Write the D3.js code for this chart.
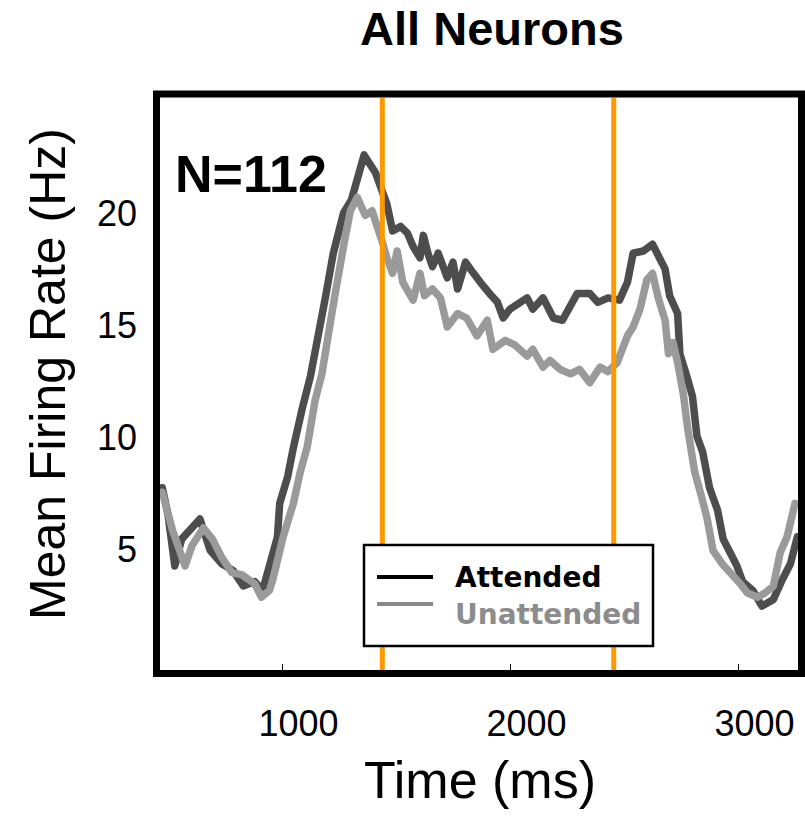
<!DOCTYPE html>
<html>
<head>
<meta charset="utf-8">
<script src="https://cdn.jsdelivr.net/npm/d3@7"></script>
<style>
  body { margin: 0; background: #fff; }
  svg { display: block; }
  text { font-family: "Liberation Sans", Arial, sans-serif; }
</style>
</head>
<body>
<div id="chart"></div>
<script>

// DATA
var attendedT = [475, 500, 530, 560, 640, 685, 735, 785, 830, 880, 915, 980, 990, 1025, 1050, 1090, 1125, 1190, 1225, 1270, 1305, 1360, 1410, 1460, 1485, 1520, 1550, 1575, 1605, 1620, 1640, 1660, 1685, 1725, 1750, 1770, 1805, 1840, 1870, 1910, 1945, 1970, 2000, 2030, 2075, 2100, 2145, 2190, 2230, 2295, 2350, 2385, 2430, 2480, 2515, 2540, 2585, 2625, 2660, 2680, 2700, 2735, 2745, 2775, 2800, 2820, 2845, 2875, 2910, 2935, 2965, 2995, 3020, 3065, 3105, 3155, 3195, 3230, 3260];
var attendedHz = [7.7, 6.5, 4.2, 5.4, 6.3, 4.9, 4.3, 4.0, 3.3, 3.5, 3.1, 5.5, 7.0, 8.2, 9.5, 11.3, 12.7, 16.2, 18.2, 20.0, 20.6, 22.6, 21.8, 20.4, 19.2, 19.4, 19.1, 18.5, 18.0, 19.0, 18.2, 17.6, 18.2, 17.1, 17.8, 16.6, 17.8, 17.3, 16.9, 16.4, 16.0, 15.3, 15.7, 15.9, 16.2, 15.7, 16.2, 15.3, 15.2, 16.4, 16.4, 16.0, 16.2, 16.1, 16.9, 18.2, 18.3, 18.6, 17.9, 17.5, 16.3, 15.5, 13.7, 12.7, 11.8, 10.0, 9.3, 7.7, 6.7, 5.4, 4.8, 4.2, 3.5, 3.1, 2.4, 2.7, 3.6, 4.3, 5.5];

var unattendedT = [475, 520, 575, 605, 655, 695, 735, 780, 825, 880, 910, 945, 960, 1005, 1050, 1080, 1110, 1145, 1175, 1230, 1275, 1300, 1330, 1365, 1395, 1440, 1460, 1485, 1505, 1530, 1575, 1605, 1625, 1660, 1695, 1725, 1770, 1810, 1855, 1900, 1925, 1980, 2020, 2075, 2100, 2145, 2175, 2220, 2265, 2305, 2350, 2395, 2430, 2470, 2515, 2540, 2570, 2600, 2625, 2650, 2680, 2695, 2715, 2735, 2760, 2780, 2810, 2840, 2865, 2890, 2930, 2965, 3010, 3040, 3085, 3120, 3155, 3185, 3215, 3250];
var unattendedHz = [7.5, 5.8, 4.2, 5.1, 5.9, 5.4, 4.6, 3.9, 3.8, 3.4, 2.8, 3.1, 3.6, 5.5, 7.0, 8.4, 9.5, 11.6, 12.8, 16.2, 18.8, 20.1, 20.7, 19.9, 20.1, 18.7, 18.0, 17.3, 18.3, 16.9, 16.1, 17.3, 16.3, 16.6, 16.2, 14.9, 15.5, 15.3, 14.5, 15.2, 13.9, 14.3, 14.1, 13.6, 13.9, 13.1, 13.4, 13.0, 12.8, 13.0, 12.4, 13.1, 12.9, 13.3, 14.5, 14.9, 15.7, 17.0, 17.3, 16.2, 15.2, 13.7, 14.2, 13.3, 11.9, 10.3, 8.4, 7.3, 6.3, 4.9, 4.3, 3.9, 3.4, 3.0, 2.8, 3.0, 3.3, 4.8, 5.5, 7.0];

var cueTimes = [1440, 2455];
var xTicks = [1000, 2000, 3000];
var yTicks = [5, 10, 15, 20];
var seriesNames = ["Attended", "Unattended"];

//////////////////////// D3 STUFF

var width = 805, height = 820;
var plot = {left: 160, right: 798, top: 98, bottom: 670};

var svg = d3.select("#chart")
  .append("svg")
    .attr("width", width)
    .attr("height", height);

var x = d3.scaleLinear()
  .domain([465, 3263])
  .range([plot.left, plot.right]);

var y = d3.scaleLinear()
  .domain([-0.46, 25.15])
  .range([plot.bottom, plot.top]);

svg.append("clipPath")
    .attr("id", "plotclip")
  .append("rect")
    .attr("x", plot.left)
    .attr("y", plot.top)
    .attr("width", plot.right - plot.left)
    .attr("height", plot.bottom - plot.top);

var line = d3.line()
  .x(function(d) { return x(d.t) })
  .y(function(d) { return y(d.v) });

function zip(ts, vs) {
  return ts.map(function(t, i) { return {t: t, v: vs[i]} });
}

var lines = svg.append("g").attr("clip-path", "url(#plotclip)");

// attended underneath, unattended on top
lines.append("path")
  .datum(zip(attendedT, attendedHz))
  .attr("d", line)
  .attr("fill", "none")
  .attr("stroke", "#4d4d4d")
  .attr("stroke-width", 7.5)
  .attr("stroke-linejoin", "round")
  .attr("stroke-linecap", "round");

lines.append("path")
  .datum(zip(unattendedT, unattendedHz))
  .attr("d", line)
  .attr("fill", "none")
  .attr("stroke", "#9a9a9a")
  .attr("stroke-width", 7.5)
  .attr("stroke-linejoin", "round")
  .attr("stroke-linecap", "round");

// cue markers
svg.selectAll(".cue")
  .data(cueTimes)
  .enter()
  .append("line")
    .attr("class", "cue")
    .attr("x1", function(d) { return x(d) })
    .attr("x2", function(d) { return x(d) })
    .attr("y1", plot.top)
    .attr("y2", plot.bottom)
    .attr("stroke", "#ff9900")
    .attr("stroke-width", 5);

// x axis, ticks pointing up into the plot
var xAxis = svg.append("g")
  .attr("transform", "translate(0," + plot.bottom + ")")
  .call(d3.axisBottom(x).tickValues(xTicks).tickSize(-6).tickFormat(d3.format("d")));
xAxis.select(".domain").remove();
xAxis.selectAll("line").attr("stroke", "#000").attr("stroke-width", 1);
xAxis.selectAll("text")
  .attr("y", 66)
  .attr("dy", null)
  .attr("dx", 16)
  .style("font-size", "36px")
  .style("font-family", "'Liberation Sans', Arial, sans-serif")
  .attr("fill", "#000");

var yAxis = svg.append("g")
  .attr("transform", "translate(" + plot.left + ",0)")
  .call(d3.axisLeft(y).tickValues(yTicks).tickSize(0));
yAxis.select(".domain").remove();
yAxis.selectAll("text")
  .attr("x", -23)
  .attr("dy", "0.36em")
  .style("font-size", "36px")
  .style("font-family", "'Liberation Sans', Arial, sans-serif")
  .attr("fill", "#000");

// legend
var legend = svg.append("g");
legend.append("rect")
  .attr("x", 364).attr("y", 545)
  .attr("width", 289).attr("height", 101)
  .attr("fill", "#fff")
  .attr("stroke", "#000")
  .attr("stroke-width", 2.5);

var legendColors = ["#000", "#888"];
var legendText = ["#000", "#8c8c8c"];
seriesNames.forEach(function(name, i) {
  legend.append("line")
    .attr("x1", 377).attr("x2", 433)
    .attr("y1", 577 + i * 27).attr("y2", 577 + i * 27)
    .attr("stroke", legendColors[i])
    .attr("stroke-width", 4);
  legend.append("text")
    .attr("x", 455)
    .attr("y", 587 + i * 37)
    .style("font-family", "'DejaVu Sans', Verdana, sans-serif")
    .style("font-weight", "bold")
    .style("font-size", "28px")
    .attr("fill", legendText[i])
    .text(name);
});

// frame
svg.append("rect")
  .attr("x", 156.5).attr("y", 94)
  .attr("width", 645).attr("height", 579.5)
  .attr("fill", "none")
  .attr("stroke", "#000")
  .attr("stroke-width", 7);

// texts
svg.append("text")
  .attr("x", 492).attr("y", 45)
  .attr("text-anchor", "middle")
  .style("font-weight", "bold")
  .style("font-size", "47px")
  .text("All Neurons");

svg.append("text")
  .attr("x", 175).attr("y", 192)
  .style("font-weight", "bold")
  .style("font-size", "52px")
  .text("N=112");

svg.append("text")
  .attr("x", 480).attr("y", 798)
  .attr("text-anchor", "middle")
  .style("font-size", "52px")
  .text("Time (ms)");

svg.append("text")
  .attr("transform", "translate(65,374) rotate(-90)")
  .attr("text-anchor", "middle")
  .style("font-size", "50px")
  .text("Mean Firing Rate (Hz)");

</script>
</body>
</html>
